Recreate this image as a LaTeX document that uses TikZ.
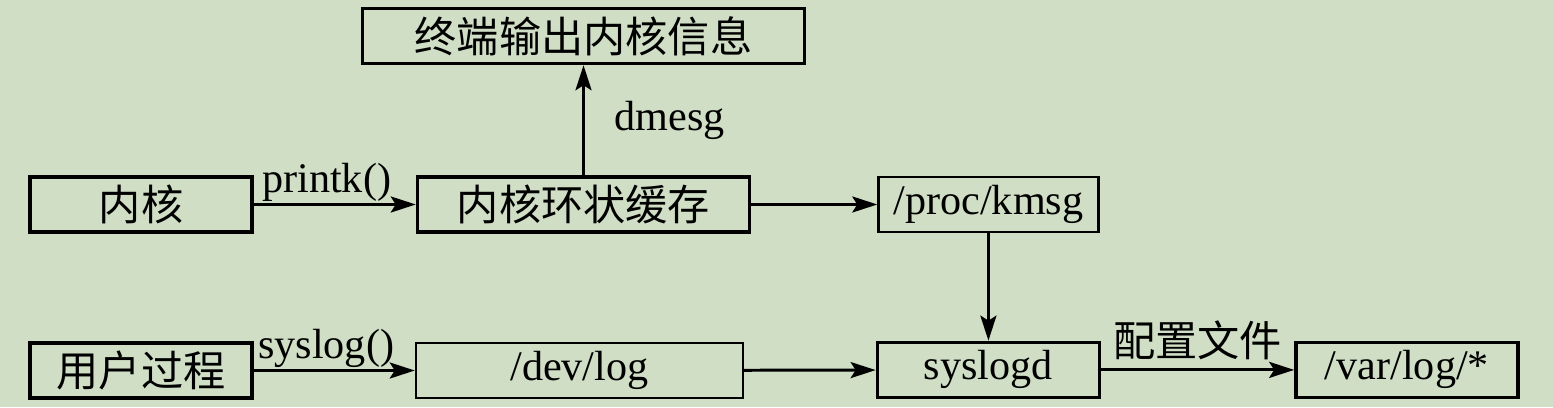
\documentclass[tikz,border=0pt]{standalone}
\usepackage{fontspec}
\setmainfont{Liberation Serif}
\newfontfamily\cjk{Noto Sans CJK SC}
\usetikzlibrary{positioning,arrows.meta}
\definecolor{bgGreen}{RGB}{207,222,196}

\begin{document}
\begin{tikzpicture}[auto,
    box/.style={draw,line width=2pt,minimum width=4.44cm,minimum height=1.1cm,inner sep=0pt,font=\fontsize{24}{28}\selectfont},
    thinbox/.style={box,line width=1.3pt},
    lbl/.style={inner sep=1pt,font=\fontsize{24}{28}\selectfont},
    >={Stealth[length=0.5cm,width=0.32cm,inset=0.1cm]}]
    % background
    \fill[bgGreen] (0,0) rectangle (31.06,8.14);
    \useasboundingbox (0,0) rectangle (31.06,8.14);
    % kernel side
    \node[box] (kern) at (2.82,4.05) {\cjk 内核};
    \node[box,minimum width=6.64cm,right=3.24cm of kern] (ring) {\cjk 内核环状缓存};
    \node[thinbox,minimum width=4.4cm,right=2.52cm of ring] (kmsg) {/proc/kmsg};
    \node[box,minimum width=8.84cm,above=2.2cm of ring] (term) {\cjk 终端输出内核信息};
    % user side
    \node[box,below=2.15cm of kern] (user) {\cjk 用户过程};
    \node[thinbox,minimum width=6.54cm,right=3.22cm of user] (devlog) {/dev/log};
    \node[box,below=2.15cm of kmsg] (syslogd) {syslogd};
    \node[box,right=3.86cm of syslogd] (varlog) {/var/log/*};

    \path[->,line width=1.7pt]
        (kern) edge node[lbl,pos=0.45]{printk()} (ring)
        (ring) edge node[lbl,right=0.56cm]{dmesg} (term)
        (ring) edge (kmsg)
        (kmsg) edge (syslogd)
        (user) edge node[lbl,pos=0.45]{syslog()} (devlog)
        (devlog) edge (syslogd)
        (syslogd) edge node[lbl,yshift=4pt]{\cjk 配置文件} (varlog);
\end{tikzpicture}
\end{document}
